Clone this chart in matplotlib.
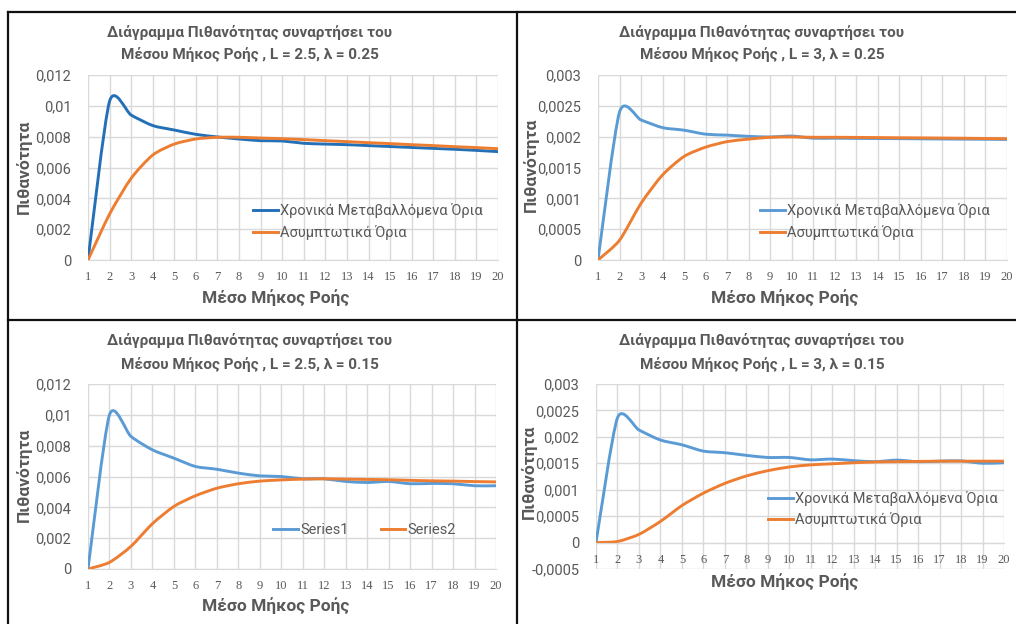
import numpy as np
import matplotlib
matplotlib.use('Agg')
import matplotlib.pyplot as plt
from matplotlib.path import Path
from matplotlib.patches import PathPatch
from matplotlib.lines import Line2D
from matplotlib.ticker import FuncFormatter, MultipleLocator

plt.rcParams['font.family'] = ['Roboto', 'DejaVu Sans']

# mean run length (category axis)
x = list(range(1, 21))

# L = 2.5, lambda = 0.25
p1_time_var = [0, 0.0103, 0.0094, 0.00872, 0.00843, 0.00815, 0.00798, 0.00785, 0.00774, 0.00772,
               0.00757, 0.00752, 0.00748, 0.00742, 0.00736, 0.00730, 0.00724, 0.00718, 0.00711, 0.00703]
p1_asym = [0, 0.00298, 0.0053, 0.00681, 0.00752, 0.00785, 0.00796, 0.00796, 0.00791, 0.00787,
           0.00781, 0.00774, 0.00768, 0.00761, 0.00755, 0.00748, 0.00742, 0.00735, 0.00729, 0.00722]

# L = 3, lambda = 0.25
p2_time_var = [0, 0.0024, 0.00227, 0.002146, 0.002105, 0.00204, 0.002025, 0.002005, 0.001995, 0.00201,
               0.001975, 0.001975, 0.001972, 0.00197, 0.001968, 0.001965, 0.001962, 0.00196, 0.001958, 0.001955]
p2_asym = [0, 0.00032, 0.00092, 0.00138, 0.00168, 0.00183, 0.00192, 0.00196, 0.00199, 0.001995,
           0.00199, 0.00199, 0.001988, 0.001985, 0.001982, 0.00198, 0.001977, 0.001974, 0.00197, 0.001967]

# L = 2.5, lambda = 0.15
p3_series1 = [0, 0.0100, 0.0086, 0.00773, 0.00719, 0.00665, 0.00647, 0.00622, 0.00604, 0.0060,
              0.00585, 0.00585, 0.00568, 0.00561, 0.00568, 0.00553, 0.00555, 0.00553, 0.0054, 0.0054]
p3_series2 = [0, 0.00043, 0.00147, 0.00294, 0.00406, 0.00475, 0.00524, 0.00553, 0.0057, 0.00578,
              0.00583, 0.00585, 0.00583, 0.00581, 0.00579, 0.00575, 0.00572, 0.0057, 0.00567, 0.00565]

# L = 3, lambda = 0.15
p4_time_var = [0, 0.00236, 0.00213, 0.00194, 0.00185, 0.00173, 0.0017, 0.00165, 0.00161, 0.00161,
               0.001565, 0.00158, 0.00155, 0.00153, 0.00156, 0.00153, 0.00154, 0.001545, 0.0015, 0.00151]
p4_asym = [0, 0.00002, 0.000155, 0.0004, 0.0007, 0.000935, 0.00112, 0.00126, 0.00136, 0.00143,
           0.00147, 0.00149, 0.00151, 0.001525, 0.00153, 0.001535, 0.00154, 0.00154, 0.00154, 0.00154]

title_l1 = 'Διάγραμμα Πιθανότητας συναρτήσει του'
titles = ['Μέσου Μήκος Ροής , L = 2.5, λ = 0.25',
          'Μέσου Μήκος Ροής , L = 3, λ = 0.25',
          'Μέσου Μήκος Ροής , L = 2.5, λ = 0.15',
          'Μέσου Μήκος Ροής , L = 3, λ = 0.15']
leg_names = ['Χρονικά Μεταβαλλόμενα Όρια', 'Ασυμπτωτικά Όρια']

BLUE_DARK = '#2370b6'
BLUE = '#5b9bd5'
ORANGE = '#ed7d31'
GRAY = '#595959'
GRID = '#d9d9d9'

W, H = 1016, 624
fig = plt.figure(figsize=(W / 100, H / 100), dpi=100)


def fx(px):
    return px / W


def fy(py):
    return 1 - py / H


def smooth_line(ax, xs, ys, color, tension=0.12):
    # smoothed line: cubic bezier through the points
    xs = np.asarray(xs, float)
    ys = np.asarray(ys, float)
    pts = np.column_stack([xs, ys])
    n = len(pts)
    verts = [pts[0]]
    codes = [Path.MOVETO]
    for i in range(n - 1):
        p0 = pts[i - 1] if i > 0 else pts[i]
        p1 = pts[i]
        p2 = pts[i + 1]
        p3 = pts[i + 2] if i + 2 < n else pts[i + 1]
        verts += [p1 + (p2 - p0) * tension, p2 - (p3 - p1) * tension, p2]
        codes += [Path.CURVE4] * 3
    patch = PathPatch(Path(verts, codes), facecolor='none', edgecolor=color,
                      lw=2.1, capstyle='round', joinstyle='round')
    ax.add_patch(patch)
    return Line2D([], [], color=color, lw=2.1)


def comma_fmt(v, pos):
    if abs(v) < 1e-12:
        return '0'
    return ('%g' % v).replace('.', ',')


def setup(ax, ymin, ymax, step):
    ax.set_xlim(1, 20)
    ax.set_ylim(ymin, ymax)
    ax.xaxis.set_major_locator(MultipleLocator(1))
    ax.yaxis.set_major_locator(MultipleLocator(step))
    ax.yaxis.set_major_formatter(FuncFormatter(comma_fmt))
    ax.grid(True, color=GRID, lw=1)
    ax.set_axisbelow(True)
    for s in ['top', 'right', 'left']:
        ax.spines[s].set_visible(False)
    ax.spines['bottom'].set_position(('data', 0))
    ax.spines['bottom'].set_color(GRID)
    ax.tick_params(axis='both', length=0)
    ax.tick_params(axis='y', labelsize=10.5, labelcolor=GRAY, pad=12)
    ax.tick_params(axis='x', labelsize=9, labelcolor=GRAY, pad=8)


# panel geometry in pixels: left, top, right, bottom of plot area
boxes = [(88, 75, 498, 260), (598, 75, 1007, 260),
         (88, 384, 496, 569), (596, 384, 1004, 569)]
axes = []
for (l, t, r, b) in boxes:
    axes.append(fig.add_axes([fx(l), fy(b), fx(r - l), (b - t) / H]))

ax1, ax2, ax3, ax4 = axes
setup(ax1, 0, 0.012, 0.002)
setup(ax2, 0, 0.003, 0.0005)
setup(ax3, 0, 0.012, 0.002)
setup(ax4, -0.0005, 0.003, 0.0005)

h1 = smooth_line(ax1, x, p1_time_var, BLUE_DARK)
h2 = smooth_line(ax1, x, p1_asym, ORANGE)
g1 = smooth_line(ax2, x, p2_time_var, BLUE)
g2 = smooth_line(ax2, x, p2_asym, ORANGE)
k1 = smooth_line(ax3, x, p3_series1, BLUE)
k2 = smooth_line(ax3, x, p3_series2, ORANGE)
m1 = smooth_line(ax4, x, p4_time_var, BLUE)
m2 = smooth_line(ax4, x, p4_asym, ORANGE)

for ax in axes:
    for lbl in ax.get_xticklabels():
        lbl.set_fontfamily('Liberation Serif')

leg_kw = dict(frameon=False, fontsize=10.5, labelcolor=GRAY, handlelength=1.7,
              handletextpad=0.15, borderpad=0, borderaxespad=0, labelspacing=0.45,
              loc='center left', bbox_transform=fig.transFigure)
ax1.legend([h1, h2], leg_names, bbox_to_anchor=(fx(253), fy(221.5)), **leg_kw)
ax2.legend([g1, g2], leg_names, bbox_to_anchor=(fx(760), fy(221.5)), **leg_kw)
ax4.legend([m1, m2], leg_names, bbox_to_anchor=(fx(768), fy(509)), **leg_kw)
leg_kw3 = dict(leg_kw)
leg_kw3.update(ncol=2, columnspacing=2.2)
ax3.legend([k1, k2], ['Series1', 'Series2'], bbox_to_anchor=(fx(273), fy(530)), **leg_kw3)

# titles and axis titles
title_pos = [(250, 32), (762, 32), (250, 341), (762, 341)]
for (cx, cy), t2 in zip(title_pos, titles):
    fig.text(fx(cx), fy(cy), title_l1, ha='center', va='center',
             fontsize=11, fontweight='bold', color=GRAY)
    fig.text(fx(cx), fy(cy + 23), t2, ha='center', va='center',
             fontsize=11, fontweight='bold', color=GRAY)

ylab_pos = [(24, 167), (531, 165), (24, 475), (529, 472)]
for (cx, cy) in ylab_pos:
    fig.text(fx(cx), fy(cy), 'Πιθανότητα', rotation=90, ha='center', va='center',
             fontsize=12.5, fontweight='bold', color=GRAY)

xlab_pos = [(276, 298), (785, 298), (276, 606), (785, 582)]
for (cx, cy) in xlab_pos:
    fig.text(fx(cx), fy(cy), 'Μέσο Μήκος Ροής', ha='center', va='center',
             fontsize=12.5, fontweight='bold', color=GRAY)

# table borders around the four charts
border = dict(color='#111111', lw=1.6, transform=fig.transFigure)
fig.add_artist(Line2D([fx(7.5), 1], [fy(11.5), fy(11.5)], **border))
fig.add_artist(Line2D([fx(7.5), fx(7.5)], [fy(11.5), 0], **border))
fig.add_artist(Line2D([fx(517), fx(517)], [fy(11.5), 0], **border))
fig.add_artist(Line2D([fx(7.5), 1], [fy(319.5), fy(319.5)], **border))

fig.savefig('out.png', dpi=100)
